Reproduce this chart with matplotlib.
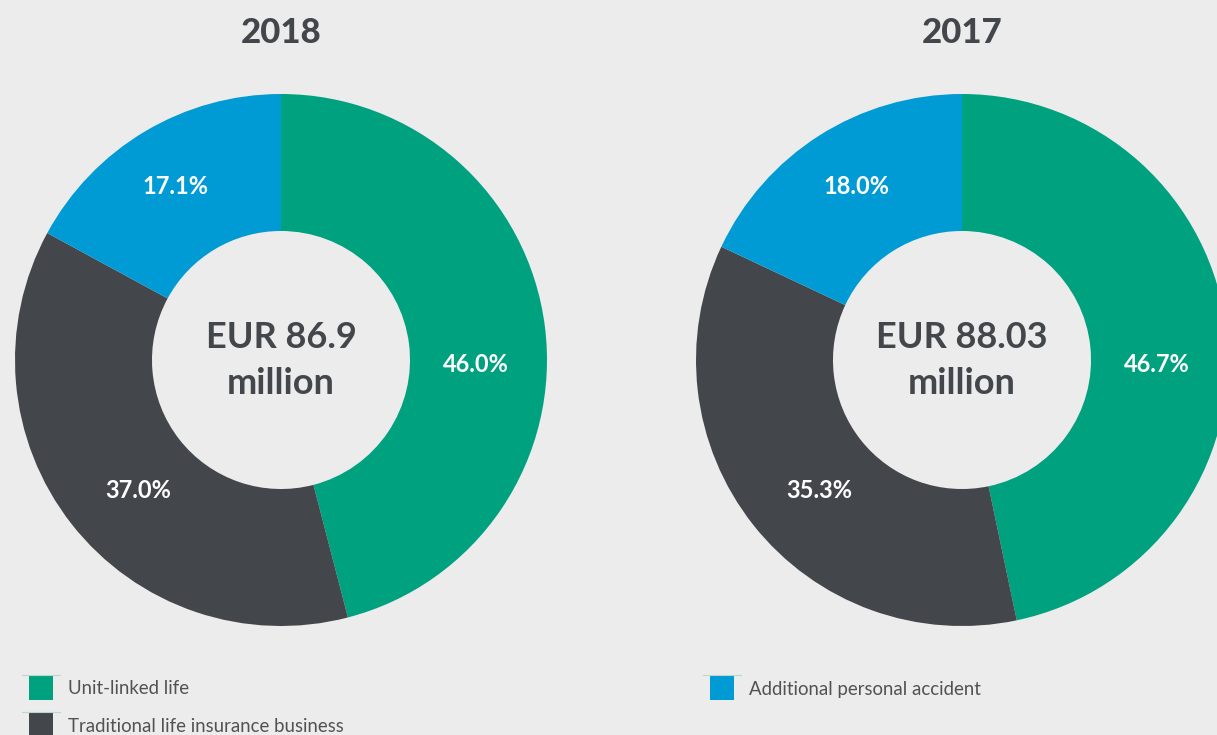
import numpy as np
import matplotlib.pyplot as plt
from matplotlib.patches import Rectangle

# 数据
years = ["2018", "2017"]
total_lines = [["EUR 86.9", "million"], ["EUR 88.03", "million"]]
categories = ["Unit-linked life", "Traditional life insurance business", "Additional personal accident"]
shares_2018 = [46.0, 37.0, 17.1]
shares_2017 = [46.7, 35.3, 18.0]
colors = ["#00a17f", "#43464a", "#009bd5"]

BG = "#ececec"
TEXT = "#43464a"
W, H = 1217, 735
R_PX = 266

# 百分比标签在环上的固定位置（相对圆心的像素偏移）
label_offsets = [(195, -4), (-143, -130), (-106, 173)]

plt.rcParams['font.family'] = ['Lato', 'DejaVu Sans']

fig = plt.figure(figsize=(W / 100, H / 100), dpi=100, facecolor=BG)


def px_axes(cx, cy, r):
    # 以像素坐标放置一个正方形坐标轴，圆心 (cx, cy)，半径 r
    return fig.add_axes([(cx - r) / W, (H - cy - r) / H, 2 * r / W, 2 * r / H])


def donut(cx, cy, shares, year, lines):
    ax = px_axes(cx, cy, R_PX)
    ax.set_facecolor(BG)
    ax.pie(shares, colors=colors, startangle=90, counterclock=False,
           radius=1.0, wedgeprops=dict(width=0.515, linewidth=0))
    ax.set_xlim(-1, 1)
    ax.set_ylim(-1, 1)
    ax.set_aspect("equal")
    ax.axis("off")

    for (dx, dy), v in zip(label_offsets, shares):
        ax.text(dx / R_PX, dy / R_PX, f"{v:.1f}%", ha="center", va="center",
                color="white", fontsize=17, fontweight="bold")

    ax.text(0, 23 / R_PX, lines[0], ha="center", va="center", color=TEXT,
            fontsize=26, fontweight="bold")
    ax.text(0, -23 / R_PX, lines[1], ha="center", va="center", color=TEXT,
            fontsize=26, fontweight="bold")
    fig.text(cx / W, 1 - 33 / H, year, ha="center", va="center", color=TEXT,
             fontsize=25, fontweight="black")


donut(281, 360, shares_2018, years[0], total_lines[0])
donut(962, 360, shares_2017, years[1], total_lines[1])

# 图例
legend_pos = [(29, 676), (29, 713), (710, 676)]
for (x, y), lab, c in zip(legend_pos, categories, colors):
    fig.add_artist(Rectangle((x / W, 1 - (y + 24) / H), 24 / W, 24 / H,
                             transform=fig.transFigure, color=c, lw=0))
    fig.add_artist(plt.Line2D([(x - 7) / W, (x + 31) / W], [1 - (y - 1) / H] * 2,
                              transform=fig.transFigure, color="#b9d9d0", lw=0.8))
    fig.text((x + 39) / W, 1 - (y + 13) / H, lab, ha="left", va="center",
             color="#505254", fontsize=13.4)

fig.savefig("out.png", dpi=100, facecolor=BG)
